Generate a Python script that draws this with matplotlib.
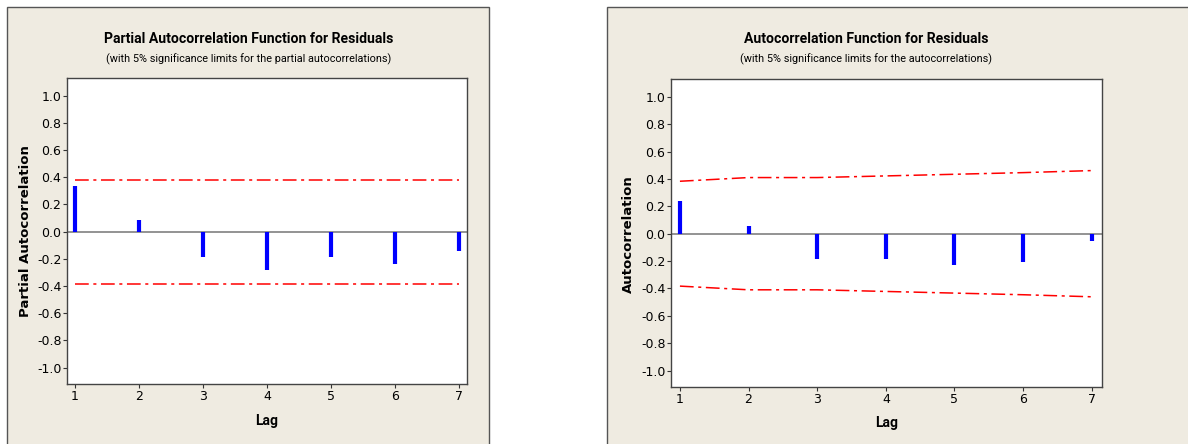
import matplotlib.pyplot as plt
from matplotlib.patches import Rectangle
import numpy as np

lags = [1, 2, 3, 4, 5, 6, 7]
pacf_vals = [0.337, 0.088, -0.188, -0.28, -0.188, -0.239, -0.144]
pacf_limit = [0.383, 0.383, 0.383, 0.383, 0.383, 0.383, 0.383]
acf_vals = [0.237, 0.056, -0.183, -0.183, -0.227, -0.207, -0.056]
acf_limit = [0.383, 0.41, 0.41, 0.422, 0.434, 0.446, 0.461]
yticks = [1.0, 0.8, 0.6, 0.4, 0.2, 0.0, -0.2, -0.4, -0.6, -0.8, -1.0]

BG = "#efebe1"
W, H = 1188, 444
TFONT = ["Roboto", "DejaVu Sans"]

fig = plt.figure(figsize=(W / 100, H / 100), dpi=100)
fig.patch.set_facecolor("white")

def px_rect(x0, y0, x1, y1):
    return [x0 / W, 1 - y1 / H, (x1 - x0) / W, (y1 - y0) / H]

# beige panels behind the axes
for (x0, y0, x1, y1) in [(7, 7, 489, 446), (607, 7, 1192, 446)]:
    fig.patches.append(Rectangle((x0 / W, 1 - y1 / H), (x1 - x0) / W, (y1 - y0) / H,
                                 transform=fig.transFigure, facecolor=BG,
                                 edgecolor="#555555", linewidth=1.0, zorder=-5))

def draw(rect, vals, lim, xlim, title, sub, ylabel, tx, ylx, yly, lagy):
    ax = fig.add_axes(px_rect(*rect))
    ax.set_zorder(2)
    ax.set_facecolor("white")
    ax.vlines(lags, 0, vals, colors="#0000ff", linewidth=3, zorder=3)
    ax.axhline(0, color="#808080", linewidth=1.2, zorder=2)
    up = np.array(lim)
    ax.plot(lags, up, color="#ff0000", linewidth=1.1, dashes=(9, 3, 2, 3))
    ax.plot(lags, -up, color="#ff0000", linewidth=1.1, dashes=(9, 3, 2, 3))
    ax.set_xlim(*xlim)
    ax.set_ylim(-1.12, 1.13)
    ax.set_xticks(lags)
    ax.set_yticks(yticks)
    ax.set_yticklabels([f"{v:.1f}" for v in yticks])
    ax.tick_params(labelsize=9, length=3, width=0.8, colors="#333333", labelcolor="black", pad=1)
    for s in ax.spines.values():
        s.set_color("#444444")
        s.set_linewidth(1.0)
    fig.text(tx / W, 1 - 39 / H, title, ha="center", va="center",
             fontsize=10.1, fontweight="bold", family=TFONT)
    fig.text(tx / W, 1 - 59 / H, sub, ha="center", va="center", fontsize=7.8,
             family=TFONT)
    fig.text(ylx / W, 1 - yly / H, ylabel, ha="center", va="center", rotation=90,
             fontsize=9.5, fontweight="bold")
    fig.text((rect[0] + rect[2]) / 2 / W, 1 - lagy / H, "Lag", ha="center", va="center",
             fontsize=10, fontweight="bold", family=TFONT)
    return ax

draw((67, 78, 467, 384), pacf_vals, pacf_limit, (0.875, 7.125),
     "Partial Autocorrelation Function for Residuals",
     "(with 5% significance limits for the partial autocorrelations)",
     "Partial Autocorrelation", 249, 26, 231, 421)
draw((671, 79, 1102, 387), acf_vals, acf_limit, (0.87, 7.15),
     "Autocorrelation Function for Residuals",
     "(with 5% significance limits for the autocorrelations)",
     "Autocorrelation", 866, 628, 234, 423)

fig.savefig("out.png", dpi=100, facecolor=fig.get_facecolor())
